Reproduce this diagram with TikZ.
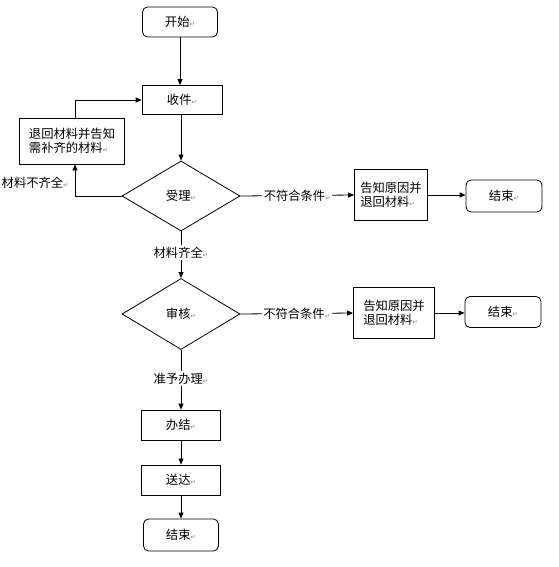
\documentclass[tikz,border=0pt]{standalone}
\usepackage{fontspec}
\setmainfont{Noto Sans CJK SC}
\newfontfamily\dvfont{DejaVu Sans}
\usetikzlibrary{shapes.geometric,arrows.meta}
\newcommand{\retmark}{{\dvfont\fontsize{6.5}{6.5}\selectfont\color{gray}↵}}
\begin{document}
\begin{tikzpicture}[x=1pt,y=-1pt,
  every node/.style={font=\fontsize{12.3}{14.5}\selectfont},
  box/.style={draw,line width=0.8pt,inner sep=1pt,align=center},
  rbox/.style={box,rounded corners=5pt},
  dia/.style={draw,line width=0.8pt,diamond,aspect=1.69,inner sep=0pt,minimum width=118pt,minimum height=70pt},
  lbl/.style={fill=white,inner sep=1.5pt},
  ln/.style={line width=0.8pt},
  arr/.style={line width=0.8pt,-{Triangle[length=6pt,width=5pt]}}]
\useasboundingbox (0,0) rectangle (558,567);
\fill[white] (0,0) rectangle (558,567);
% nodes
\node[rbox,minimum width=75pt,minimum height=30pt] (start) at (180,22) {开始\retmark};
\node[box,minimum width=80pt,minimum height=29pt] (shou) at (182,100) {收件\retmark};
\node[box,minimum width=105pt,minimum height=46pt,align=left] (tui) at (72,141) {退回材料并告知\\需补齐的材料\retmark};
\node[dia] (d1) at (181,196) {受理\retmark};
\node[box,minimum width=73pt,minimum height=51pt,align=left] (r1) at (391,195) {告知原因并\\退回材料\retmark};
\node[rbox,minimum width=76pt,minimum height=32pt] (e1) at (504,196) {结束\retmark};
\node[dia,minimum height=71pt] (d2) at (181,314) {审核\retmark};
\node[box,minimum width=81pt,minimum height=51pt,align=left] (r2) at (394,313) {告知原因并\\退回材料\retmark};
\node[rbox,minimum width=76pt,minimum height=31pt] (e2) at (503,312) {结束\retmark};
\node[box,minimum width=79pt,minimum height=30pt] (ban) at (181,425) {办结\retmark};
\node[box,minimum width=79pt,minimum height=30pt] (song) at (181,480) {送达\retmark};
\node[rbox,minimum width=75pt,minimum height=32pt] (end) at (181,535) {结束\retmark};
% labels
\node[anchor=west,inner sep=0.5pt] (lq) at (1,183) {材料不齐全\retmark};
% connectors
\draw[arr] (start) -- (start|-shou.north);
\draw[arr] (shou.south-|d1.north) -- (d1.north);
\draw[arr] (d1.west) -| ([xshift=3pt]tui.south);
\draw[arr] ([xshift=3pt]tui.north) |- (shou.west);
\draw[arr] (d1.east) -- node[lbl] (l1) {不符合条件\retmark} (r1.west);
\draw[arr] (r1.east) -- (r1.east-|e1.west);
\draw[arr] (d1.south) -- node[lbl,pos=0.45] (l2) {材料齐全\retmark} (d2.north);
\draw[arr] (d2.east) -- node[lbl] (l3) {不符合条件\retmark} (r2.west);
\draw[arr] (r2.east) -- (r2.east-|e2.west);
\draw[arr] (d2.south) -- node[lbl,pos=0.48] (l4) {准予办理\retmark} (ban.north);
\draw[arr] (ban) -- (song);
\draw[arr] (song) -- (end);
\end{tikzpicture}
\end{document}
